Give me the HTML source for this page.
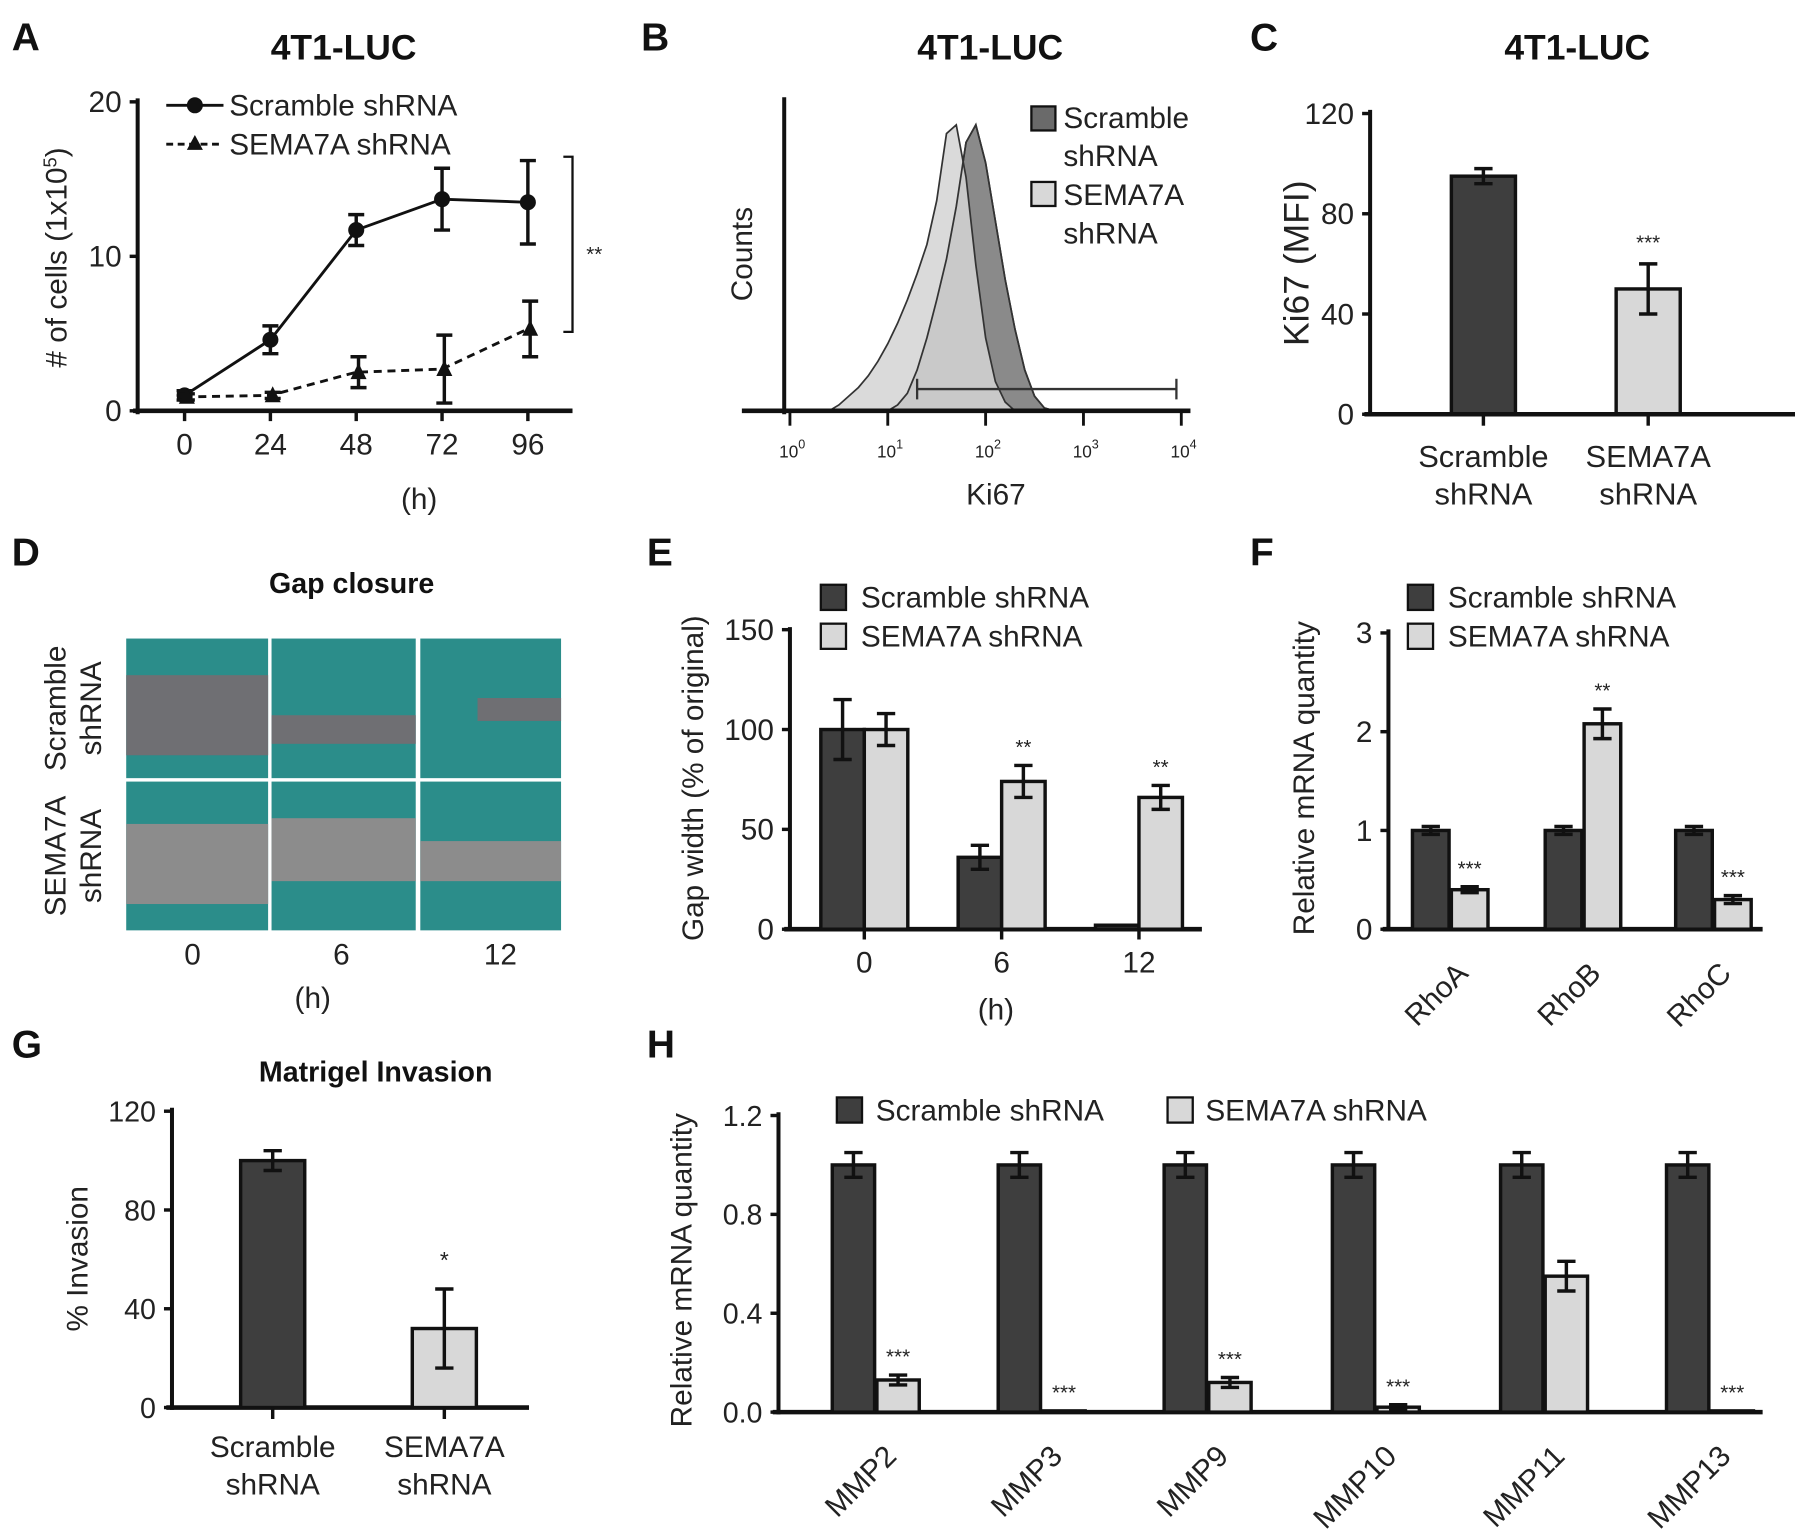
<!DOCTYPE html>
<html><head><meta charset="utf-8"><style>
html,body{margin:0;padding:0;background:#fff}
svg{display:block}
text{font-family:"Liberation Sans",Arial,sans-serif;fill:#222}
.b{font-weight:bold;fill:#111}
</style></head><body>
<svg id="fig" width="1795" height="1538" viewBox="0 0 1568 1344" xmlns="http://www.w3.org/2000/svg"></svg>
<script>
// ---------- data ----------
const aHours = [0, 24, 48, 72, 96];
const aScramble = [1, 4.6, 11.7, 13.7, 13.5];
const aScrambleErr = [0.3, 0.9, 1.0, 2.0, 2.7];
const aSema = [0.9, 1.0, 2.5, 2.7, 5.3];
const aSemaErr = [0.2, 0.2, 1.0, 2.2, 1.8];
const aYTicks = [0, 10, 20];

const bXTickExp = [0, 1, 2, 3, 4];
const bLightLog = [0.4,0.5,0.6,0.7,0.8,0.9,1.0,1.1,1.2,1.3,1.4,1.5,1.6,1.7,1.8,1.9,2.0,2.1,2.2,2.3];
const bLightCounts = [0,2,5,8,12,17,23,30,38,47,57,72,95,98,80,50,25,10,3,0];
const bDarkLog = [1.0,1.1,1.2,1.3,1.4,1.5,1.6,1.7,1.8,1.9,2.0,2.1,2.2,2.3,2.4,2.5,2.6,2.7];
const bDarkCounts = [0,2,6,14,25,38,52,70,92,98,85,65,45,28,14,5,1,0];
const bGate = [1.3, 3.95];

const cCats = ["Scramble", "SEMA7A"];
const cVals = [95, 50];
const cErr = [3, 10];
const cTicks = [0, 40, 80, 120];

const eCats = ["0", "6", "12"];
const eScr = [100, 36, 2];
const eScrErr = [15, 6, 0];
const eSem = [100, 74, 66];
const eSemErr = [8, 8, 6];
const eStars = ["", "**", "**"];
const eTicks = [0, 50, 100, 150];

const fCats = ["RhoA", "RhoB", "RhoC"];
const fScr = [1, 1, 1];
const fScrErr = [0.04, 0.04, 0.04];
const fSem = [0.4, 2.08, 0.3];
const fSemErr = [0.03, 0.15, 0.04];
const fStars = ["***", "**", "***"];
const fTicks = [0, 1, 2, 3];

const gCats = ["Scramble", "SEMA7A"];
const gVals = [100, 32];
const gErr = [4, 16];
const gTicks = [0, 40, 80, 120];

const hCats = ["MMP2","MMP3","MMP9","MMP10","MMP11","MMP13"];
const hScr = [1,1,1,1,1,1];
const hScrErr = [0.05,0.05,0.05,0.05,0.05,0.05];
const hSem = [0.13,0.005,0.12,0.02,0.55,0.005];
const hSemErr = [0.02,0,0.02,0.01,0.06,0];
const hStars = ["***","***","***","***","","***"];
const hTicks = [0,0.4,0.8,1.2];

const DARK = "#3e3e3e", LIGHT = "#d8d8d8";
const svg = document.getElementById('fig');
const NS = "http://www.w3.org/2000/svg";
function mk(tag, attrs, parent){
  const el = document.createElementNS(NS, tag);
  for (const k in attrs) el.setAttribute(k, attrs[k]);
  (parent||svg).appendChild(el);
  return el;
}
function txt(x,y,s,size,opts){
  opts = opts||{};
  const el = mk('text',{x:x,y:y,'font-size':size,'text-anchor':opts.anchor||'middle'});
  if (opts.cls) el.setAttribute('class', opts.cls);
  if (opts.rot) el.setAttribute('transform','rotate('+opts.rot+' '+x+' '+y+')');
  el.textContent = s;
  return el;
}
function line(x1,y1,x2,y2,w,dash){
  const el = mk('line',{x1:x1,y1:y1,x2:x2,y2:y2,stroke:'#111','stroke-width':w||3});
  if (dash) el.setAttribute('stroke-dasharray', dash);
  return el;
}
function errbar(x,y1,y2,cap){
  const g = mk('g',{});
  
  
  mk('line',{x1:x,y1:y1,x2:x,y2:y2,stroke:'#111','stroke-width':3},g);
  mk('line',{x1:x-cap,y1:y1,x2:x+cap,y2:y1,stroke:'#111','stroke-width':3},g);
  mk('line',{x1:x-cap,y1:y2,x2:x+cap,y2:y2,stroke:'#111','stroke-width':3},g);
}
function bar(x,w,y0,y,fill,name){
  const r = mk('rect',{x:x-w/2,y:Math.min(y,y0),width:w,height:Math.abs(y0-y),fill:fill,stroke:'#111','stroke-width':3});
  
  
  return r;
}
function yAxis(x,yTop,yBot,ticks,sy,fmt,size){
  const g = mk('g',{});
  
  
  mk('line',{x1:x,y1:yTop,x2:x,y2:yBot,stroke:'#111','stroke-width':3.5},g);
  ticks.forEach(t=>{
    const y = sy(t);
    mk('line',{x1:x-7,y1:y,x2:x,y2:y,stroke:'#111','stroke-width':3},g);
    const l = txt(x-14,y+9,fmt?fmt(t):String(t),size||25,{anchor:'end'});
    
  });
}
// panel letters
[["A",10,44],["B",560,44],["C",1092,44],["D",10,494],["E",565,494],["F",1092,494],["G",10,924],["H",565,924]].forEach(p=>{
  const t = txt(p[1],p[2],p[0],34,{anchor:'start',cls:'b'});
  
});

// ---------- Panel A ----------
(function(){
  const sx = h => 161 + h/24*75;
  const sy = v => 359 - v*13.5;
  const t = txt(300,52,"4T1-LUC",31,{cls:'b'});
  
  yAxis(120,86,362,aYTicks,sy,null,26);
  line(116,359,500,359,4);
  aHours.forEach(h=>{
    line(sx(h),359,sx(h),368,3);
    const l = txt(sx(h),397,String(h),26);
    
  });
  const xl = txt(366,445,"(h)",26); 
  const yl = mk('text',{x:58,y:225,'font-size':26,'text-anchor':'middle',transform:'rotate(-90 58 225)'});
  
  
  yl.innerHTML = '# of cells (1x10<tspan baseline-shift="super" font-size="16">5</tspan>)';
  const p1 = aHours.map((h,i)=>sx(h)+','+sy(aScramble[i])).join(' ');
  const l1 = mk('polyline',{points:p1,fill:'none',stroke:'#111','stroke-width':2.5});
   
  const p2 = aHours.map((h,i)=>sx(h)+','+sy(aSema[i])).join(' ');
  const l2 = mk('polyline',{points:p2,fill:'none',stroke:'#111','stroke-width':2.5,'stroke-dasharray':'7 5'});
   
  aHours.forEach((h,i)=>{
    errbar(sx(h),sy(aScramble[i]+aScrambleErr[i]),sy(aScramble[i]-aScrambleErr[i]),7);
    const c = mk('circle',{cx:sx(h),cy:sy(aScramble[i]),r:7,fill:'#111'});
     
    errbar(sx(h)+2,sy(aSema[i]+aSemaErr[i]),sy(aSema[i]-aSemaErr[i]),7);
    const x=sx(h)+2,y=sy(aSema[i]);
    const tr = mk('polygon',{points:(x-7)+','+(y+6)+' '+(x+7)+','+(y+6)+' '+x+','+(y-8),fill:'#111'});
     
  });
  const lg = mk('g',{});  
  mk('line',{x1:145,y1:92,x2:195,y2:92,stroke:'#111','stroke-width':2.5},lg);
  mk('circle',{cx:170,cy:92,r:7,fill:'#111'},lg);
  mk('line',{x1:145,y1:126,x2:195,y2:126,stroke:'#111','stroke-width':2.5,'stroke-dasharray':'6 4'},lg);
  mk('polygon',{points:'163,131 177,131 170,118',fill:'#111'},lg);
  txt(200,101,"Scramble shRNA",26,{anchor:'start'});
  txt(200,135,"SEMA7A  shRNA",26,{anchor:'start'});
  const br = mk('polyline',{points:'492,137 500,137 500,290 492,290',fill:'none',stroke:'#111','stroke-width':2});
   
  txt(519,228,"**",18);
})();

// ---------- Panel B ----------
(function(){
  const sx = e => 690 + e*85.5;
  const sy = c => 359 - c*2.55;
  const t = txt(865,52,"4T1-LUC",31,{cls:'b'}); 
  const pts = (lg,cn) => lg.map((l,i)=>sx(l)+','+sy(cn[i])).join(' ');
  const h2 = mk('polygon',{points:pts(bDarkLog,bDarkCounts),fill:'#8a8a8a',stroke:'#333','stroke-width':1.5});
   
  const h1 = mk('polygon',{points:pts(bLightLog,bLightCounts),fill:'#d4d4d4','fill-opacity':0.85,stroke:'#333','stroke-width':1.5});
   
  mk('polyline',{points:pts(bDarkLog,bDarkCounts),fill:'none',stroke:'#333','stroke-width':1.5});
  mk('line',{x1:685,y1:85,x2:685,y2:362,stroke:'#111','stroke-width':3.5});
  line(648,359,1040,359,4);
  bXTickExp.forEach(e=>{
    line(sx(e),359,sx(e),372,2.5);
    const g = mk('text',{x:sx(e)+2,y:400,'font-size':15,'text-anchor':'middle'});
     
    g.innerHTML = '10<tspan dy="-8" font-size="11">'+e+'</tspan>';
  });
  const gt = mk('g',{});  
  mk('line',{x1:sx(bGate[0]),y1:340,x2:sx(bGate[1]),y2:340,stroke:'#333','stroke-width':2},gt);
  mk('line',{x1:sx(bGate[0]),y1:331,x2:sx(bGate[0]),y2:349,stroke:'#333','stroke-width':2},gt);
  mk('line',{x1:sx(bGate[1]),y1:331,x2:sx(bGate[1]),y2:349,stroke:'#333','stroke-width':2},gt);
  const yl = txt(657,222,"Counts",26,{rot:-90}); 
  const xl = txt(870,441,"Ki67",26); 
  const lg = mk('g',{});  
  mk('rect',{x:901,y:93,width:21,height:21,fill:'#6a6a6a',stroke:'#111','stroke-width':2},lg);
  mk('rect',{x:901,y:159,width:21,height:21,fill:'#d8d8d8',stroke:'#111','stroke-width':2},lg);
  txt(929,112,"Scramble",26,{anchor:'start'});
  txt(929,145,"shRNA",26,{anchor:'start'});
  txt(929,179,"SEMA7A",26,{anchor:'start'});
  txt(929,213,"shRNA",26,{anchor:'start'});
})();

// ---------- Panel C ----------
(function(){
  const cx = [1296, 1440];
  const sy = v => 362 - v*2.19;
  const t = txt(1378,52,"4T1-LUC",31,{cls:'b'}); 
  yAxis(1197,96,364,cTicks,sy,null,26);
  cCats.forEach((c,i)=>{
    bar(cx[i],56,362,sy(cVals[i]),i?LIGHT:DARK,'bar-'+c.toLowerCase());
    errbar(cx[i],sy(cVals[i]+cErr[i]),sy(cVals[i]-cErr[i]),8);
    line(cx[i],362,cx[i],372,3);
    const l = txt(cx[i],408,c,27); 
    txt(cx[i],441,"shRNA",27);
  });
  line(1192,362,1736,362,4);
  txt(1440,218,"***",18);
  const yl = txt(1143,230,"Ki67 (MFI)",31,{rot:-90}); 
})();

// ---------- Panel D ----------
(function(){
  const t = txt(307,518,"Gap closure",25,{cls:'b'}); 
  const cols = [[110,234],[237,363],[367,490]];
  const rows = [[558,680],[683,813]];
  const bands = [[[590,660],[625,650],[610,630]],[[720,790],[715,770],[735,770]]];
  const grays = ["#6f6f73","#8c8c8c"];
  rows.forEach((r,ri)=>cols.forEach((c,ci)=>{
    const g = mk('g',{});  
    mk('rect',{x:c[0],y:r[0],width:c[1]-c[0],height:r[1]-r[0],fill:'#2b8d8a'},g);
    const b = bands[ri][ci];
    let x0=c[0], w=c[1]-c[0];
    if (ri===0 && ci===2){ x0=c[0]+50; w=c[1]-c[0]-50; }
    mk('rect',{x:x0,y:b[0],width:w,height:b[1]-b[0],fill:grays[ri]},g);
  }));
  [168,298,437].forEach((x,i)=>{ const l=txt(x,843,["0","6","12"][i],26);  });
  txt(273,881,"(h)",26);
  txt(57,619,"Scramble",26,{rot:-90}); txt(88,619,"shRNA",26,{rot:-90});
  txt(57,748,"SEMA7A",26,{rot:-90}); txt(88,748,"shRNA",26,{rot:-90});
})();

function grouped(cfg){
  const sy = v => cfg.y0 - v*cfg.k;
  yAxis(cfg.ax, cfg.yTop, cfg.y0+2, cfg.ticks, sy, cfg.fmt, cfg.fs);
  line(cfg.ax-5, cfg.y0, cfg.axEnd, cfg.y0, 4);
  cfg.cats.forEach((c,i)=>{
    const cx = cfg.cx[i];
    bar(cx-cfg.off, cfg.bw, cfg.y0, sy(cfg.scr[i]), DARK, 'bar-scramble-'+c.toLowerCase());
    if (cfg.scrErr[i]>0) errbar(cx-cfg.off, sy(cfg.scr[i]+cfg.scrErr[i]), sy(cfg.scr[i]-cfg.scrErr[i]), 8);
    bar(cx+cfg.off, cfg.bw, cfg.y0, sy(cfg.sem[i]), LIGHT, 'bar-sema7a-'+c.toLowerCase());
    if (cfg.semErr[i]>0) errbar(cx+cfg.off, sy(cfg.sem[i]+cfg.semErr[i]), sy(cfg.sem[i]-cfg.semErr[i]), 8);
    if (cfg.stars[i]) txt(cx+cfg.off, sy(cfg.sem[i]+cfg.semErr[i])-10, cfg.stars[i], 18);
    if (cfg.rotLabels){
      const l = txt(cx+cfg.off, cfg.y0+40, c, 26, {anchor:'end', rot:-45});
      
    } else {
      line(cx,cfg.y0,cx,cfg.y0+9,3);
      const l = txt(cx, cfg.y0+38, c, 26);
      
    }
  });
}

// ---------- Panel E ----------
grouped({ax:690,axEnd:1050,yTop:548,y0:812,k:1.745,ticks:eTicks,fs:26,cats:eCats,cx:[755,875,995],off:19,bw:38,
  scr:eScr,scrErr:eScrErr,sem:eSem,semErr:eSemErr,stars:eStars});
(function(){
  txt(870,891,"(h)",26);
  const yl = txt(614,680,"Gap width (% of original)",26,{rot:-90}); 
  const lg = mk('g',{});  
  mk('rect',{x:717,y:511,width:22,height:22,fill:DARK,stroke:'#111','stroke-width':2},lg);
  mk('rect',{x:717,y:545,width:22,height:22,fill:LIGHT,stroke:'#111','stroke-width':2},lg);
  txt(752,531,"Scramble shRNA",26,{anchor:'start'});
  txt(752,565,"SEMA7A  shRNA",26,{anchor:'start'});
})();

// ---------- Panel F ----------
grouped({ax:1213,axEnd:1540,yTop:550,y0:812,k:86.3,ticks:fTicks,fs:26,cats:fCats,cx:[1267,1383,1497],off:17,bw:32,
  scr:fScr,scrErr:fScrErr,sem:fSem,semErr:fSemErr,stars:fStars,rotLabels:true});
(function(){
  const yl = txt(1148,680,"Relative mRNA  quantity",26,{rot:-90}); 
  const lg = mk('g',{});  
  mk('rect',{x:1230,y:511,width:22,height:22,fill:DARK,stroke:'#111','stroke-width':2},lg);
  mk('rect',{x:1230,y:545,width:22,height:22,fill:LIGHT,stroke:'#111','stroke-width':2},lg);
  txt(1265,531,"Scramble shRNA",26,{anchor:'start'});
  txt(1265,565,"SEMA7A  shRNA",26,{anchor:'start'});
})();

// ---------- Panel G ----------
(function(){
  const cx = [238, 388];
  const sy = v => 1230 - v*2.158;
  const t = txt(328,945,"Matrigel Invasion",25,{cls:'b'}); 
  yAxis(150,968,1232,gTicks,sy,null,25);
  line(145,1230,462,1230,4);
  gCats.forEach((c,i)=>{
    bar(cx[i],56,1230,sy(gVals[i]),i?LIGHT:DARK,'bar-'+c.toLowerCase());
    errbar(cx[i],sy(gVals[i]+gErr[i]),sy(gVals[i]-gErr[i]),8);
    line(cx[i],1230,cx[i],1240,3);
    const l = txt(cx[i],1273,c,26); 
    txt(cx[i],1306,"shRNA",26);
  });
  txt(388,1108,"*",20);
  const yl = txt(76,1100,"% Invasion",26,{rot:-90}); 
})();

// ---------- Panel H ----------
grouped({ax:680,axEnd:1540,yTop:972,y0:1234,k:216,ticks:hTicks,fs:25,fmt:v=>v.toFixed(1),cats:hCats,
  cx:[765,910,1055,1202,1349,1494],off:19.5,bw:37,
  scr:hScr,scrErr:hScrErr,sem:hSem,semErr:hSemErr,stars:hStars,rotLabels:true});
(function(){
  const yl = txt(604,1110,"Relative mRNA  quantity",26,{rot:-90}); 
  const lg = mk('g',{});  
  mk('rect',{x:731,y:959,width:22,height:22,fill:DARK,stroke:'#111','stroke-width':2},lg);
  mk('rect',{x:1020,y:959,width:22,height:22,fill:LIGHT,stroke:'#111','stroke-width':2},lg);
  txt(765,979,"Scramble shRNA",26,{anchor:'start'});
  txt(1053,979,"SEMA7A  shRNA",26,{anchor:'start'});
})();
</script>
</body></html>
